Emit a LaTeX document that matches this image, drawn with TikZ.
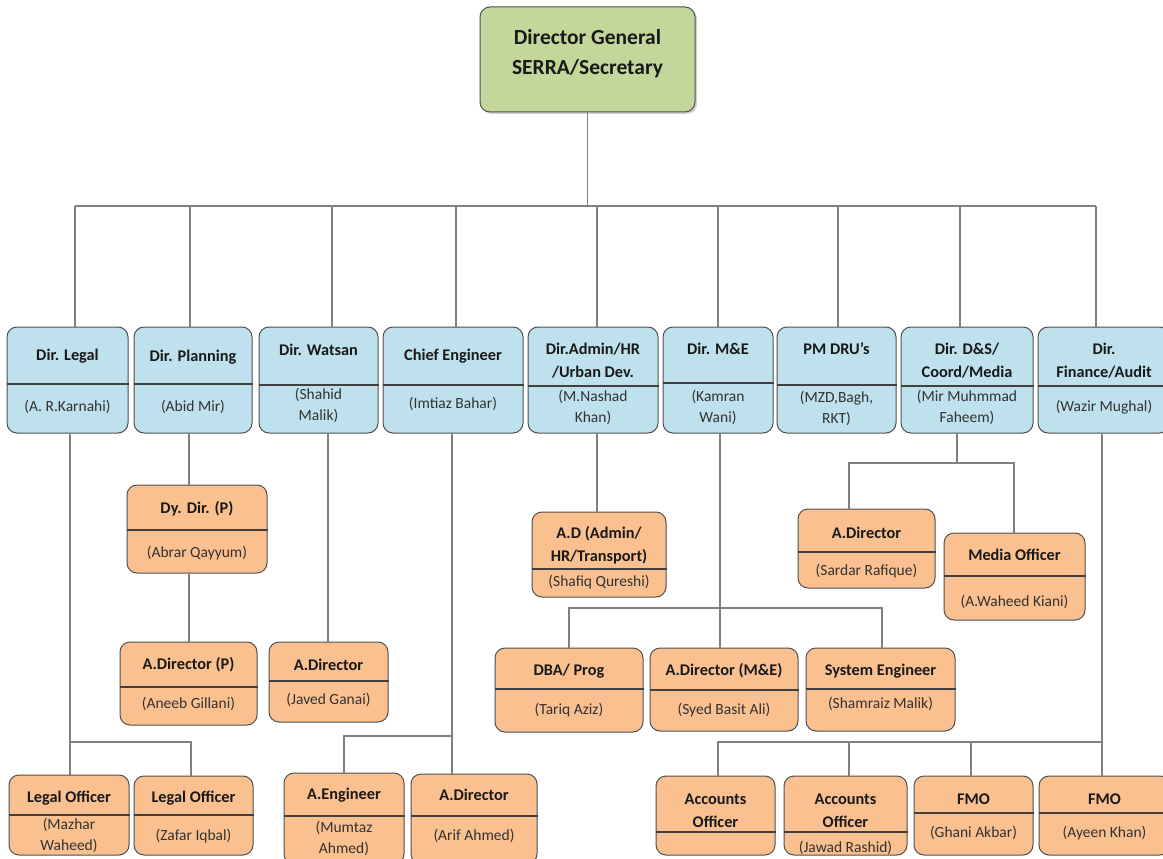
\documentclass[tikz,border=0pt]{standalone}
\usepackage{fontspec}
\setmainfont{Carlito}
\usetikzlibrary{fit,shadows}
\definecolor{boxblue}{RGB}{190,225,237}
\definecolor{boxorange}{RGB}{250,192,144}
\definecolor{boxgreen}{RGB}{196,215,155}
\definecolor{edgegray}{RGB}{80,80,80}
\definecolor{conngray}{RGB}{128,128,128}
\definecolor{txtdark}{RGB}{25,25,25}
\definecolor{txtname}{RGB}{50,50,50}
\tikzset{
  basebox/.style={draw=edgegray, line width=1pt, rounded corners=10pt, inner sep=0pt},
  bluebox/.style={basebox, fill=boxblue},
  orangebox/.style={basebox, fill=boxorange},
  greenbox/.style={basebox, fill=boxgreen, drop shadow={opacity=0.35, shadow xshift=2pt, shadow yshift=-2pt}},
  divline/.style={draw=black!75, line width=1.5pt},
  ttl/.style={font=\bfseries\fontsize{16.3}{23}\selectfont, text=txtdark, align=center, inner sep=0pt},
  nm/.style={font=\fontsize{15.5}{21}\selectfont, text=txtname, align=center, inner sep=0pt},
  conn/.style={draw=conngray, line width=1.1pt},
}
\newcommand\obox[9]{%
  \node[#2, fit={(#3) (#4)}] (#1) {};
  \draw[divline] (#1.west |- 0,#5) -- (#1.east |- 0,#5);
  \node[ttl] (#1-t) at (#1 |- 0,#6) {#7};
  \node[nm] (#1-n) at (#1 |- 0,#8) {#9};
}
\begin{document}
\begin{tikzpicture}[x=1pt,y=-1pt]
\useasboundingbox (0,0) rectangle (1163,859);
\fill[white] (0,0) rectangle (1163,859);

\coordinate (busA) at (75,206);
\coordinate (busB) at (1096,206);

% ---------- top ----------
\node[greenbox, fit={(480,7) (695,112)}] (dg) {};
\node[ttl, font=\bfseries\fontsize{21.5}{30}\selectfont] (dg-t) at (dg |- 0,54) {Director General\\SERRA/Secretary};

% ---------- level 1 ----------
\obox{legal}{bluebox}{7,327}{128,433}{384}{356}{Dir. Legal}{407}{(A. R.Karnahi)}
\obox{planning}{bluebox}{134,327}{252,433}{384}{357}{Dir. Planning}{407}{(Abid Mir)}
\obox{watsan}{bluebox}{259,327}{378,433}{385}{350}{Dir. Watsan}{405.5}{(Shahid\\Malik)}
\obox{ce}{bluebox}{383,327}{523,433}{385}{356}{Chief Engineer}{404}{(Imtiaz Bahar)}
\obox{admin}{bluebox}{528,327}{658,433}{386}{361}{Dir.Admin/HR\\/Urban Dev.}{407.5}{(M.Nashad\\Khan)}
\obox{me}{bluebox}{663,327}{773,433}{383}{349}{Dir. M\&E}{407.5}{(Kamran\\Wani)}
\obox{pm}{bluebox}{777,327}{896,433}{385}{349}{PM DRU’s}{408}{(MZD,Bagh,\\RKT)}
\obox{ds}{bluebox}{901,327}{1033,433}{386}{360.5}{Dir. D\&S/\\Coord/Media}{407.5}{(Mir Muhmmad\\Faheem)}
\obox{fin}{bluebox}{1038,327}{1170,433}{386}{360.5}{Dir.\\Finance/Audit}{407}{(Wazir Mughal)}

% ---------- level 2 ----------
\obox{dydir}{orangebox}{127,485}{267,573}{530}{509}{Dy. Dir. (P)}{553}{(Abrar Qayyum)}
\obox{adirp}{orangebox}{120,642}{257,725}{687}{665}{A.Director (P)}{704}{(Aneeb Gillani)}
\obox{javed}{orangebox}{269,642}{388,722}{681}{665}{A.Director}{700}{(Javed Ganai)}
\obox{adadm}{orangebox}{532,512}{666,597}{569}{545}{A.D (Admin/\\HR/Transport)}{582}{(Shafiq Qureshi)}
\obox{sardar}{orangebox}{798,509}{935,588}{552}{533}{A.Director}{571}{(Sardar Rafique)}
\obox{media}{orangebox}{944,533}{1085,620}{576}{555}{Media Officer}{602}{(A.Waheed Kiani)}
\obox{dba}{orangebox}{495,648}{643,732}{689}{671}{DBA/ Prog}{710}{(Tariq Aziz)}
\obox{adme}{orangebox}{650,648}{798,731}{690}{671}{A.Director (M\&E)}{710}{(Syed Basit Ali)}
\obox{syseng}{orangebox}{806,648}{955,731}{689}{671}{System Engineer}{704}{(Shamraiz Malik)}

% ---------- level 3 ----------
\obox{lo1}{orangebox}{9,775}{129,855}{815}{798}{Legal Officer}{835.5}{(Mazhar\\Waheed)}
\obox{lo2}{orangebox}{134,776}{253,855}{815}{798}{Legal Officer}{836}{(Zafar Iqbal)}
\obox{ae}{orangebox}{284,773}{404,864}{816}{795}{A.Engineer}{838}{(Mumtaz\\Ahmed)}
\obox{arif}{orangebox}{411,774}{537,864}{816}{795}{A.Director}{836}{(Arif Ahmed)}
\obox{ao1}{orangebox}{656,776}{775,855}{832}{810.5}{Accounts\\Officer}{845}{}
\obox{ao2}{orangebox}{784,776}{907,855}{832}{810.5}{Accounts\\Officer}{848}{(Jawad Rashid)}
\obox{fmo1}{orangebox}{914,776}{1033,855}{813}{799}{FMO}{833}{(Ghani Akbar)}
\obox{fmo2}{orangebox}{1039,776}{1170,855}{813}{799}{FMO}{833}{(Ayeen Khan)}

% ---------- connectors ----------
\draw[conn] (dg.south) -- (dg.south |- busA);
\draw[conn] (busA) -- (busB);
\foreach \xx/\nn in {75/legal,190/planning,332/watsan,456/ce,597/admin,718/me,838/pm,960/ds,1096/fin}
  \draw[conn] (\xx,206) -- (\nn.north -| \xx,0);

% legal
\draw[conn] (legal.south -| 70,0) -- (lo1.north -| 70,0);
\draw[conn] (70,742) -- (191,742) -- (lo2.north -| 191,0);
% planning
\draw[conn] (planning.south -| 189,0) -- (dydir.north -| 189,0);
\draw[conn] (dydir.south -| 189,0) -- (adirp.north -| 189,0);
% watsan
\draw[conn] (watsan.south -| 328,0) -- (javed.north -| 328,0);
% chief engineer
\draw[conn] (ce.south -| 452,0) -- (arif.north -| 452,0);
\draw[conn] (452,736) -- (344,736) -- (ae.north -| 344,0);
% admin
\draw[conn] (admin.south -| 597,0) -- (adadm.north -| 597,0);
% M&E
\draw[conn] (me.south -| 720,0) -- (adme.north -| 720,0);
\draw[conn] (dba.north -| 569,0) -- (569,608) -- (882,608) -- (syseng.north -| 882,0);
% D&S
\draw[conn] (ds.south -| 957,0) -- (957,463);
\draw[conn] (sardar.north -| 849,0) -- (849,463) -- (1014,463) -- (media.north -| 1014,0);
% finance
\draw[conn] (fin.south -| 1102,0) -- (fmo2.north -| 1102,0);
\draw[conn] (ao1.north -| 718,0) -- (718,742) -- (1102,742);
\draw[conn] (849,742) -- (ao2.north -| 849,0);
\draw[conn] (971,742) -- (fmo1.north -| 971,0);
\end{tikzpicture}
\end{document}
